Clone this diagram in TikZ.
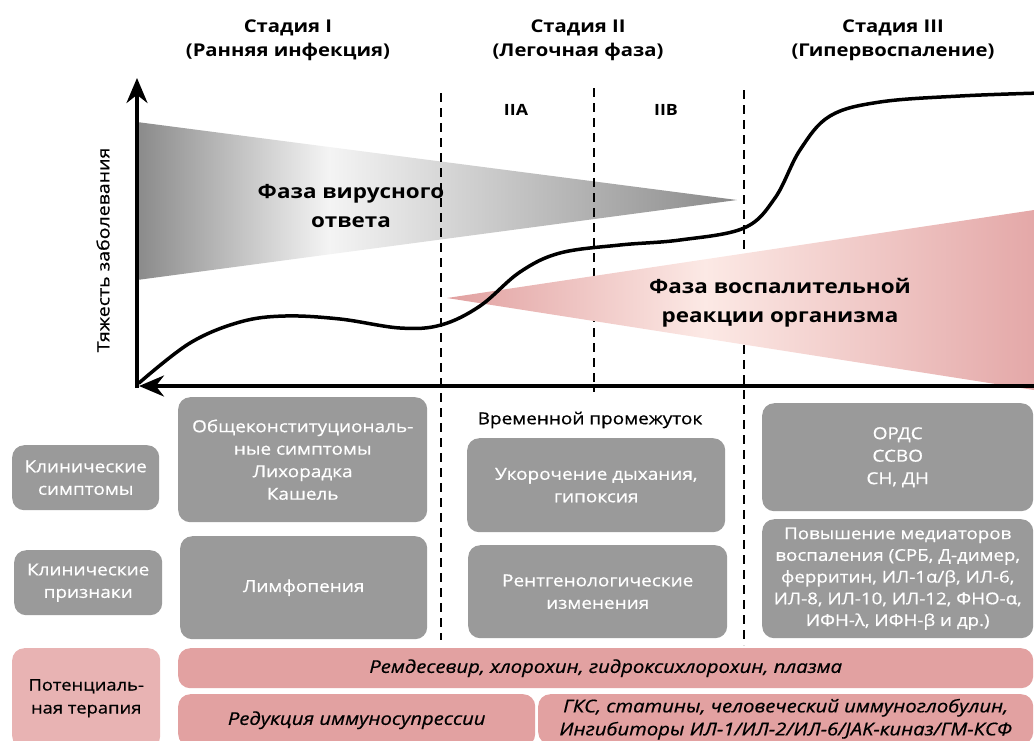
\documentclass[tikz,border=0pt]{standalone}
\usepackage{fontspec}
\setmainfont{Open Sans}[FakeStretch=1.15, UprightFeatures={FakeBold=0.6}, ItalicFeatures={FakeBold=0.6}]
\usetikzlibrary{positioning, arrows.meta}
\definecolor{boxgray}{RGB}{154,154,154}
\definecolor{therpink}{RGB}{226,161,161}
\definecolor{labelpink}{RGB}{232,179,179}
\definecolor{virusdark}{RGB}{138,138,138}
\definecolor{viruslight}{RGB}{244,244,244}
\definecolor{inflamdark}{RGB}{225,160,160}
\definecolor{inflamlight}{RGB}{252,233,229}
\definecolor{inflamright}{RGB}{228,168,168}
\pgfdeclarehorizontalshading{virusfade}{100bp}{color(0bp)=(virusdark); color(25bp)=(virusdark); color(41bp)=(viruslight); color(75bp)=(virusdark); color(100bp)=(virusdark)}
\pgfdeclarehorizontalshading{inflamfade}{100bp}{color(0bp)=(inflamdark); color(25bp)=(inflamdark); color(47bp)=(inflamlight); color(75bp)=(inflamright); color(100bp)=(inflamright)}

\begin{document}
\begin{tikzpicture}[x=1pt, y=-1pt,
  graybox/.style={fill=boxgray, rounded corners=12pt, text=white, align=center, anchor=north west, inner sep=0pt, font=\fontsize{16.5}{22.5}\selectfont},
  pinkbox/.style={fill=therpink, rounded corners=12pt, align=center, anchor=north west, inner sep=0pt, font=\fontsize{17.6}{23}\selectfont\itshape},
  stagehead/.style={align=center, font=\fontsize{17.6}{24}\selectfont\bfseries},
  phasetext/.style={align=center, font=\fontsize{19.5}{29}\selectfont\bfseries},
  stageline/.style={line width=2.4pt, dash pattern=on 9pt off 6pt},
  axisline/.style={line width=3.5pt, -{Stealth[length=25pt,width=21pt]}}]
    \useasboundingbox (0,0) rectangle (1034,740);

    \shade[shading=virusfade] (137,122) -- (737,200) -- (137,280) -- cycle;

    \draw[stageline] (441,93) -- (441,640);
    \draw[stageline] (594,88) -- (594,392);
    \draw[stageline] (744,90) -- (744,645);

    \shade[shading=inflamfade] (447,298) -- (1034,210) -- (1034,390) -- cycle;

    \draw[line width=3.5pt, line cap=round] plot[smooth, tension=0.6] coordinates {(139,383) (190,343) (240,322) (285,316) (340,319) (400,328) (441,325) (480,306) (520,272) (560,253) (620,245) (680,240) (744,228) (775,198) (800,150) (830,116) (880,102) (960,96) (1040,93)};

    \draw[axisline] (137,388) -- (137,78);
    \draw[axisline] (1040,386) -- (139,386);

    \node[stagehead] (stage1) at (288,40) {Стадия I\\(Ранняя инфекция)};
    \node[stagehead] (stage2) at (578,40) {Стадия II\\(Легочная фаза)};
    \node[stagehead] (stage3) at (893,40) {Стадия III\\(Гипервоспаление)};

    \node[font=\fontsize{15.5}{18}\selectfont\bfseries] (subA) at (516,110) {IIA};
    \node[font=\fontsize{15.5}{18}\selectfont\bfseries] (subB) at (666,110) {IIB};

    \node[rotate=90, font=\fontsize{17}{20}\selectfont] (ylabel) at (103,250) {Тяжесть заболевания};

    \node[phasetext] (virus) at (351,206) {Фаза вирусного\\ответа};
    \node[phasetext] (inflam) at (780,303) {Фаза воспалительной\\реакции организма};

    \node[font=\fontsize{16.5}{20}\selectfont] (gap) at (590,420) {Временной промежуток};

    \node[graybox, minimum width=147pt, minimum height=65pt] (symlabel) at (12,445) {Клинические\\симптомы};
    \node[graybox, minimum width=148pt, minimum height=65pt] (signlabel) at (14,550) {Клинические\\признаки};

    \node[graybox, minimum width=249pt, minimum height=125pt] (sym1) at (178,397) {Общеконституциональ-\\ные симптомы\\Лихорадка\\Кашель};
    \node[graybox, minimum width=247pt, minimum height=103pt] (sign1) at (180,536) {Лимфопения};

    \node[graybox, minimum width=258pt, minimum height=94pt] (sym2) at (467,438) {Укорочение дыхания,\\гипоксия};
    \node[graybox, minimum width=259pt, minimum height=93pt] (sign2) at (468,545) {Рентгенологические\\изменения};

    \node[graybox, minimum width=271pt, minimum height=108pt] (sym3) at (762,403) {ОРДС\\ССВО\\СН, ДН};
    \node[graybox, minimum width=271pt, minimum height=119pt, font=\fontsize{16.3}{21.7}\selectfont] (sign3) at (762,519) {Повышение медиаторов\\воспаления (СРБ, Д-димер,\\ферритин, ИЛ-1α/β, ИЛ-6,\\ИЛ-8, ИЛ-10, ИЛ-12, ФНО-α,\\ИФН-λ, ИФН-β и др.)};

    \node[pinkbox, fill=labelpink, font=\fontsize{16}{23}\selectfont, minimum width=148pt, minimum height=100pt] (therlabel) at (12,648) {Потенциаль-\\ная терапия};
    \node[pinkbox, minimum width=855pt, minimum height=40pt] (ther1) at (178,648) {Ремдесевир, хлорохин, гидроксихлорохин, плазма};
    \node[pinkbox, minimum width=357pt, minimum height=52pt] (ther2) at (178,694) {Редукция иммуносупрессии};
    \node[pinkbox, minimum width=495pt, minimum height=50pt] (ther3) at (538,694) {ГКС, статины, человеческий иммуноглобулин,\\Ингибиторы ИЛ-1/ИЛ-2/ИЛ-6/JAK-киназ/ГМ-КСФ};
\end{tikzpicture}
\end{document}
